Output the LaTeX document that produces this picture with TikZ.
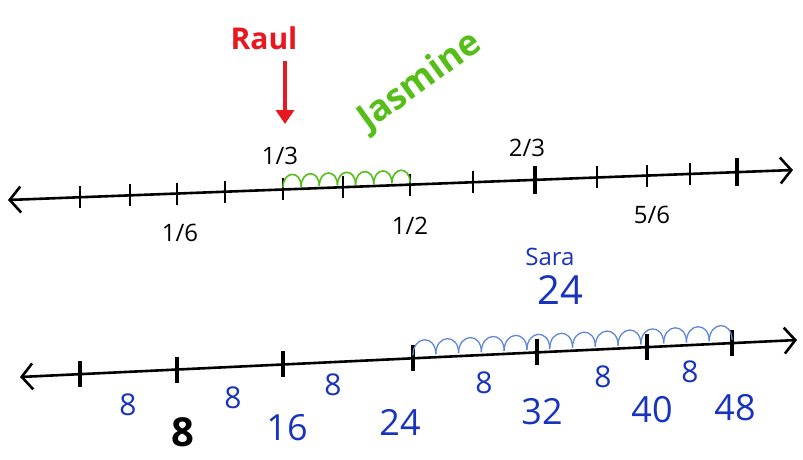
\documentclass[tikz,border=0pt]{standalone}
\usepackage{fontspec}
\setmainfont{Open Sans}
\usetikzlibrary{arrows.meta,calc}
\definecolor{raulred}{RGB}{232,24,32}
\definecolor{jasgreen}{RGB}{86,190,24}
\definecolor{sarablue}{RGB}{24,52,190}
\definecolor{hopblue}{RGB}{96,136,214}
\tikzset{
 numline/.style={line width=2.6pt,{Straight Barb[length=11pt,width=26pt]}-{Straight Barb[length=11pt,width=26pt]}},
 tick/.style={line width=2.6pt},
 bigtick/.style={line width=4pt},
 jhop/.style={draw=jasgreen,line width=1.6pt},
 shop/.style={draw=hopblue,line width=1.3pt},
 frac/.style={font=\fontsize{24}{26}\selectfont},
 jump/.style={text=sarablue,font=\fontsize{30}{32}\selectfont},
 total/.style={text=sarablue,font=\fontsize{36}{38}\selectfont},
 pointer/.style={draw=raulred,line width=4pt,shorten <=8pt,-{Triangle[length=14pt,width=18pt]}}
}
\begin{document}
\begin{tikzpicture}[x=1pt,y=-1pt]
\path[use as bounding box] (0,0) rectangle (803,459);
% top number line
\coordinate (tl) at (8,200);
\coordinate (tr) at (793,170);
\draw[numline] (tl) -- (tr);
\foreach \px [count=\i] in {80,130,177,225,283,343,410,473,535,597,647,690,737}
 \coordinate (t\i) at (\px,{200-(\px-8)/785*30});
\foreach \i in {1,...,13}
 \draw[tick] ($(t\i)+(0,-11)$) -- ($(t\i)+(0,11)$);
\foreach \i in {9,13}
 \draw[bigtick] ($(t\i)+(0,-14)$) -- ($(t\i)+(0,14)$);
\node[frac] (third) at (280,156) {1/3};
\node[frac] (sixth) at (180,233) {1/6};
\node[frac] (half) at (410,226) {1/2};
\node[frac] (twothirds) at (527,148) {2/3};
\node[frac] (fivesixths) at (652,215) {5/6};
% Raul
\node[text=raulred,font=\fontsize{30}{32}\selectfont\bfseries] (raul) at (264,38) {Raul};
\coordinate (raultip) at (285,124);
\draw[pointer] (raul.south -| raultip) -- (raultip);
% Jasmine
\node[text=jasgreen,font=\fontsize{36}{38}\selectfont\bfseries,rotate=36] (jasmine) at (420,82) {Jasmine};
\foreach \k [evaluate=\k as \a using \k/7, evaluate=\k as \b using (\k+1)/7] in {0,...,6}
 \draw[jhop] ($(t5)!\a!(t7)+(0,-2)$) .. controls +(0,-17) and +(0,-17) .. ($(t5)!\b!(t7)+(0,-2)$);
% bottom number line
\coordinate (bl) at (20,377);
\coordinate (br) at (797,340);
\draw[numline] (bl) -- (br);
\foreach \px [count=\i] in {80,177,283,413,537,647,732}
 \coordinate (b\i) at (\px,{377-(\px-20)/777*37});
\foreach \i in {1,...,7}
 \draw[bigtick] ($(b\i)+(0,-13)$) -- ($(b\i)+(0,13)$);
\foreach \k [evaluate=\k as \a using \k/14, evaluate=\k as \b using (\k+1)/14] in {0,...,13}
 \draw[shop] ($(b4)!\a!(b7)+(0,-3)$) .. controls +(0,-20) and +(0,-20) .. ($(b4)!\b!(b7)+(0,-3)$);
\node[text=sarablue,font=\fontsize{24}{26}\selectfont] (sara) at (550,257) {Sara};
\node[text=sarablue,font=\fontsize{40}{42}\selectfont] (saratotal) at (560,290) {24};
\node[jump] (j1) at (128,405) {8};
\node[jump] (j2) at (233,398) {8};
\node[jump] (j3) at (333,385) {8};
\node[jump] (j4) at (484,383) {8};
\node[jump] (j5) at (603,377) {8};
\node[jump] (j6) at (690,372) {8};
\node[font=\fontsize{40}{42}\selectfont\bfseries] (v1) at (183,432) {8};
\node[total] (v2) at (287,428) {16};
\node[total] (v3) at (400,422) {24};
\node[total] (v4) at (542,412) {32};
\node[total] (v5) at (652,410) {40};
\node[total] (v6) at (735,408) {48};
\end{tikzpicture}
\end{document}
